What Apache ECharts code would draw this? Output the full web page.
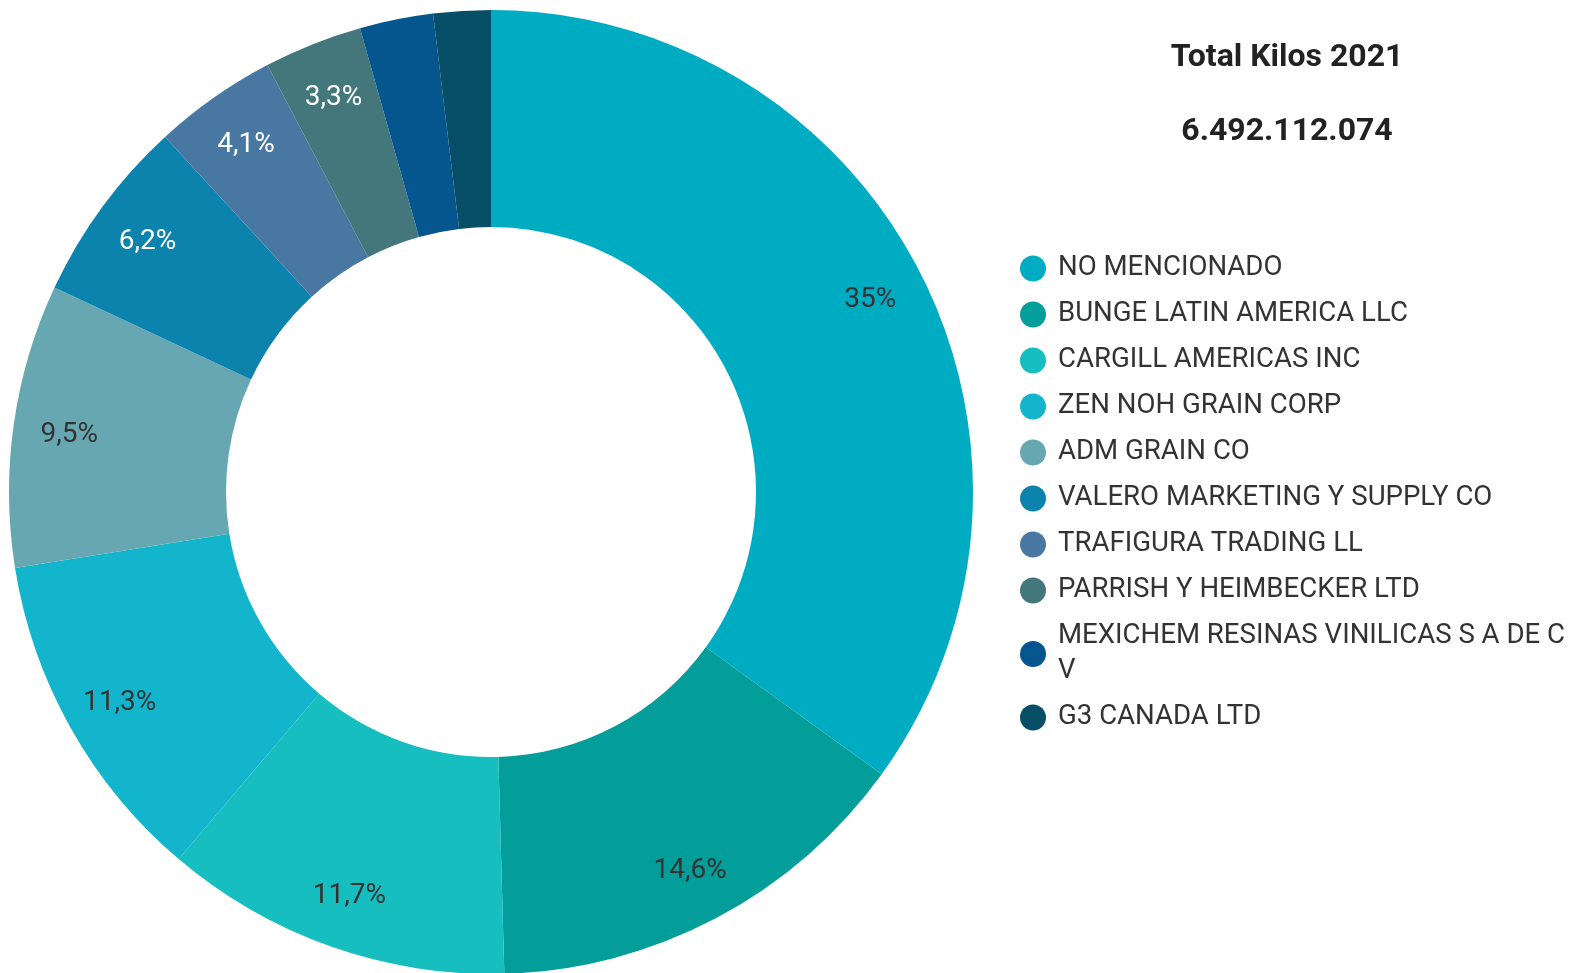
<!DOCTYPE html>
<html>
<head>
<meta charset="utf-8">
<script src="https://cdn.jsdelivr.net/npm/echarts@6/dist/echarts.min.js"></script>
<style>
  html, body { margin: 0; padding: 0; background: #fff; }
  #chart { width: 1584px; height: 973px; }
</style>
</head>
<body>
<div id="chart"></div>
<script>
// empresas (categorias)
const companies = [
  'NO MENCIONADO',
  'BUNGE LATIN AMERICA LLC',
  'CARGILL AMERICAS INC',
  'ZEN NOH GRAIN CORP',
  'ADM GRAIN CO',
  'VALERO MARKETING Y SUPPLY CO',
  'TRAFIGURA TRADING LL',
  'PARRISH Y HEIMBECKER LTD',
  'MEXICHEM RESINAS VINILICAS S A DE C V',
  'G3 CANADA LTD'
];
// participacion en %
const shares = [34.96, 14.6, 11.66, 11.26, 9.49, 6.21, 4.14, 3.3, 2.46, 1.92];
const colors = ['#00acc1', '#049e9a', '#17bec0', '#12b5cb', '#67a7b2',
                '#0b83ad', '#4878a2', '#43777b', '#05558e', '#074f67'];
// color de etiqueta por rebanada (null = sin etiqueta)
const labelColors = ['#333', '#333', '#333', '#333', '#333',
                     '#fff', '#fff', '#fff', null, null];

const titleText = 'Total Kilos 2021';
const totalText = '6.492.112.074';

const chart = echarts.init(document.getElementById('chart'));

const ringData = companies.map((name, i) => ({
  name: name,
  value: shares[i],
  itemStyle: { color: colors[i] }
}));

// capa solo de etiquetas, mas afuera que el centro del anillo
const labelData = companies.map((name, i) => ({
  name: name,
  value: shares[i],
  label: labelColors[i]
    ? { show: true, color: labelColors[i] }
    : { show: false }
}));

const fmtPct = v => String(Math.round(v * 10) / 10).replace('.', ',') + '%';

// nombres muy largos: el ultimo trozo pasa a la linea siguiente
const wrapName = name => name.length > 35
  ? name.slice(0, name.lastIndexOf(' ')) + '\n' + name.slice(name.lastIndexOf(' ') + 1)
  : name;

const option = {
  animation: false,
  title: [
    {
      text: titleText,
      left: 1282,
      top: 37,
      textAlign: 'center',
      textStyle: { fontFamily: 'Roboto', fontSize: 32, fontWeight: 'bold', color: '#222' }
    },
    {
      text: totalText,
      left: 1282,
      top: 111,
      textAlign: 'center',
      textStyle: { fontFamily: 'Roboto', fontSize: 32, fontWeight: 'bold', color: '#222' }
    }
  ],
  legend: {
    orient: 'vertical',
    left: 1015,
    top: 246,
    icon: 'circle',
    itemWidth: 26,
    itemHeight: 26,
    itemGap: 11,
    data: companies,
    formatter: wrapName,
    textStyle: {
      fontFamily: 'Roboto',
      fontSize: 27.6,
      color: '#333',
      lineHeight: 35,
      padding: [0, 0, 0, 7]
    }
  },
  series: [
    {
      type: 'pie',
      center: [491, 492],
      radius: [265, 482],
      startAngle: 90,
      silent: true,
      label: { show: false },
      labelLine: { show: false },
      data: ringData
    },
    {
      type: 'pie',
      center: [491, 492],
      radius: [364, 482],
      startAngle: 90,
      silent: true,
      itemStyle: { color: 'transparent' },
      labelLine: { show: false },
      label: {
        position: 'inside',
        offset: [0, 2],
        fontFamily: 'Roboto',
        fontSize: 28,
        formatter: p => fmtPct(p.value)
      },
      data: labelData
    }
  ]
};

chart.setOption(option);
</script>
</body>
</html>
